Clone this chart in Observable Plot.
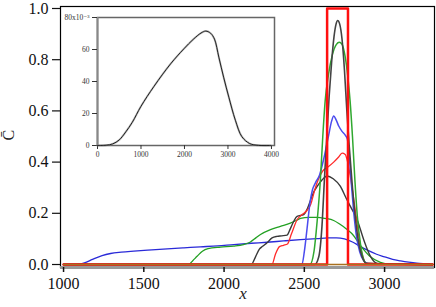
<!DOCTYPE html>
<html><head><meta charset="utf-8">
<script src="https://cdn.jsdelivr.net/npm/d3@7"></script>
<script src="https://cdn.jsdelivr.net/npm/@observablehq/plot@0.6"></script>
<style>
body{margin:0;background:#fff;}
#wrap{position:relative;width:436px;height:307px;overflow:hidden;background:#fff;}
#inset{position:absolute;left:60px;top:10px;}
svg{overflow:visible}
svg text{font-family:"Liberation Serif","DejaVu Serif",serif !important;}
</style></head><body><div id="wrap"><div id="main"></div><div id="inset"></div></div>
<script>
// ---- main chart tick values ----
const xTicks = [1000, 1500, 2000, 2500, 3000];
const yTicks = [0, 0.2, 0.4, 0.6, 0.8, 1.0];

// ---- series (x, C) ----
const exactX = [1000, 2642, 2642, 2772, 2772, 3300];
const exactY = [0, 0, 1, 1, 0, 0];

const narrowBlackX = [1000, 2565, 2590, 2610, 2625, 2640, 2655, 2670, 2685, 2698, 2708, 2720, 2735, 2750, 2765, 2780, 2800, 2820, 2840, 2860, 2885, 3300];
const narrowBlackY = [0, 0, 0.03, 0.15, 0.33, 0.5, 0.66, 0.79, 0.89, 0.94, 0.953, 0.94, 0.88, 0.76, 0.6, 0.46, 0.3, 0.17, 0.08, 0.03, 0.005, 0];

const narrowGreenX = [1000, 2535, 2560, 2580, 2600, 2615, 2630, 2650, 2675, 2700, 2718, 2735, 2755, 2770, 2785, 2800, 2815, 2830, 2850, 2870, 2890, 3300];
const narrowGreenY = [0, 0, 0.05, 0.17, 0.33, 0.5, 0.64, 0.74, 0.82, 0.86, 0.868, 0.86, 0.81, 0.74, 0.64, 0.5, 0.33, 0.19, 0.08, 0.02, 0.003, 0];

const bluePeakX = [1000, 2485, 2500, 2517, 2535, 2550, 2570, 2595, 2620, 2650, 2670, 2683, 2698, 2715, 2735, 2755, 2768, 2780, 2795, 2810, 2825, 2845, 2870, 2900, 3300];
const bluePeakY = [0, 0, 0.05, 0.14, 0.24, 0.29, 0.32, 0.35, 0.41, 0.5, 0.56, 0.58, 0.565, 0.54, 0.52, 0.505, 0.49, 0.42, 0.3, 0.19, 0.11, 0.05, 0.015, 0.002, 0];

const redThinX = [1000, 2298, 2320, 2345, 2370, 2395, 2420, 2455, 2486, 2515, 2540, 2560, 2580, 2600, 2621, 2645, 2683, 2714, 2735, 2755, 2770, 2785, 2800, 2818, 2835, 2850, 2865, 2885, 3300];
const redThinY = [0, 0, 0.04, 0.07, 0.075, 0.08, 0.12, 0.175, 0.195, 0.21, 0.235, 0.28, 0.32, 0.35, 0.37, 0.38, 0.4, 0.42, 0.435, 0.43, 0.4, 0.35, 0.29, 0.21, 0.13, 0.07, 0.03, 0.005, 0];

const darkBroadX = [1000, 2170, 2196, 2220, 2240, 2268, 2299, 2330, 2360, 2393, 2413, 2435, 2455, 2496, 2520, 2538, 2560, 2580, 2610, 2642, 2680, 2725, 2760, 2787, 2829, 2870, 2912, 2955, 3300];
const darkBroadY = [0, 0, 0.03, 0.06, 0.071, 0.085, 0.104, 0.11, 0.112, 0.115, 0.14, 0.17, 0.188, 0.195, 0.22, 0.25, 0.285, 0.305, 0.33, 0.346, 0.335, 0.305, 0.26, 0.227, 0.175, 0.097, 0.032, 0.004, 0];

const greenBroadX = [1000, 1780, 1805, 1832, 1865, 1900, 1978, 2060, 2120, 2164, 2200, 2227, 2289, 2351, 2413, 2450, 2476, 2530, 2580, 2630, 2683, 2720, 2760, 2800, 2849, 2912, 2974, 3030, 3300];
const greenBroadY = [0, 0, 0.015, 0.032, 0.052, 0.062, 0.068, 0.072, 0.078, 0.088, 0.105, 0.117, 0.136, 0.149, 0.162, 0.172, 0.18, 0.184, 0.184, 0.18, 0.172, 0.158, 0.14, 0.118, 0.075, 0.03, 0.008, 0.001, 0];

const blueBroadX = [1000, 1085, 1130, 1180, 1240, 1293, 1360, 1438, 1550, 1646, 1750, 1853, 1960, 2060, 2170, 2268, 2370, 2476, 2580, 2650, 2700, 2750, 2800, 2850, 2900, 2950, 3000, 3050, 3100, 3150, 3200, 3260, 3300];
const blueBroadY = [0, 0, 0.006, 0.02, 0.035, 0.043, 0.048, 0.052, 0.057, 0.061, 0.065, 0.069, 0.073, 0.078, 0.083, 0.087, 0.092, 0.097, 0.101, 0.104, 0.104, 0.1, 0.088, 0.07, 0.054, 0.04, 0.03, 0.02, 0.014, 0.009, 0.005, 0.002, 0];

const baseX = [1000, 3300];
const baseY = [0, 0];

// ---- inset ----
const insetXTicks = [0, 1000, 2000, 3000, 4000];
const insetYTicks = [0, 20, 40, 60, 80];
const insetYLabels = ["0", "20", "40", "60", "80x10\u207B\u00B3"];
const insetX = [0, 200, 350, 500, 650, 800, 1000, 1300, 1680, 1985, 2200, 2380, 2490, 2600, 2690, 2790, 2900, 3020, 3170, 3320, 3500, 3700, 3980];
const insetY = [0, 0.2, 1.0, 3.5, 8.5, 14.5, 24.5, 37, 51, 60.4, 66.3, 70.3, 71.5, 70.2, 66.5, 55.2, 42.7, 30.2, 15.8, 5.5, 1.2, 0.1, 0];

function rows(xs, ys) { return xs.map((x, i) => ({x, y: ys[i]})); }
const serif = "'Liberation Serif', 'DejaVu Serif', serif";

const yMin = -0.0117, yMax = 1.0078;
const line = (xs, ys, stroke, w, curve = "monotone-x", op = 1) =>
  Plot.line(rows(xs, ys), {x: "x", y: "y", stroke, strokeWidth: w, curve, strokeOpacity: op});

const main = Plot.plot({
  width: 436, height: 307,
  marginLeft: 60, marginRight: 2, marginTop: 6, marginBottom: 40,
  style: {fontFamily: serif, background: "white", color: "#111"},
  x: {domain: [981, 3311]},
  y: {domain: [yMin, yMax]},
  marks: [
    Plot.frame({stroke: "black", strokeWidth: 1.2}),
    Plot.ruleY([yMin], {stroke: "#999", strokeWidth: 3}),
    Plot.axisX({ticks: xTicks, tickSize: 5, tickPadding: 5, tickFormat: d => String(d), fontSize: 16, fontFamily: serif, label: null, strokeWidth: 1.5}),
    Plot.axisY({ticks: yTicks, tickSize: 8, tickPadding: 4, tickFormat: d3.format(".1f"), fontSize: 16, fontFamily: serif, label: null, strokeWidth: 1.2}),
    line(blueBroadX, blueBroadY, "#2a2ad8", 1.3),
    line(greenBroadX, greenBroadY, "#22a022", 1.3),
    line(darkBroadX, darkBroadY, "#3a3a3a", 1.4),
    line(redThinX, redThinY, "#ff2a2a", 1.3),
    line(bluePeakX, bluePeakY, "#4b4bee", 1.5),
    line(narrowGreenX, narrowGreenY, "#30a830", 1.5),
    line(narrowBlackX, narrowBlackY, "#444", 1.6),
    line(exactX, exactY, "#ff1010", 2.5, "linear"),
    line(baseX, baseY, "#a8701f", 1.5, "linear"),
    Plot.text(["C\u0304"], {frameAnchor: "left", dx: -52, dy: 3.5, rotate: -90, fontSize: 16, fontFamily: serif, fill: "#222"}),
    Plot.text(["x"], {frameAnchor: "bottom", dx: -4.5, dy: 31, fontSize: 17, fontStyle: "italic", fontFamily: serif, fill: "#222"})
  ]
});
document.getElementById("main").appendChild(main);

const inset = Plot.plot({
  width: 220, height: 155,
  marginLeft: 37, marginRight: 6, marginTop: 7, marginBottom: 20,
  style: {fontFamily: serif, background: "transparent", color: "#333"},
  x: {domain: [0, 4070]},
  y: {domain: [0, 80]},
  marks: [
    Plot.frame({fill: "white", stroke: "#666", strokeWidth: 1.5}),
    Plot.ruleX([0], {stroke: "#888", strokeWidth: 2}),
    Plot.axisX({ticks: insetXTicks, tickSize: 4, tickPadding: 2, tickFormat: d => String(d), fontSize: 7.5, fontFamily: serif, label: null}),
    Plot.axisY({ticks: insetYTicks, tickSize: 5, tickPadding: 3, tickFormat: d => insetYLabels[insetYTicks.indexOf(d)], fontSize: 7.5, fontFamily: serif, label: null}),
    Plot.line(rows(insetX, insetY), {x: "x", y: "y", stroke: "#888", strokeWidth: 2, curve: "catmull-rom", strokeOpacity: 0.6}),
    Plot.line(rows(insetX, insetY), {x: "x", y: "y", stroke: "#222", strokeWidth: 1, curve: "catmull-rom"})
  ]
});
document.getElementById("inset").appendChild(inset);
</script></body></html>
